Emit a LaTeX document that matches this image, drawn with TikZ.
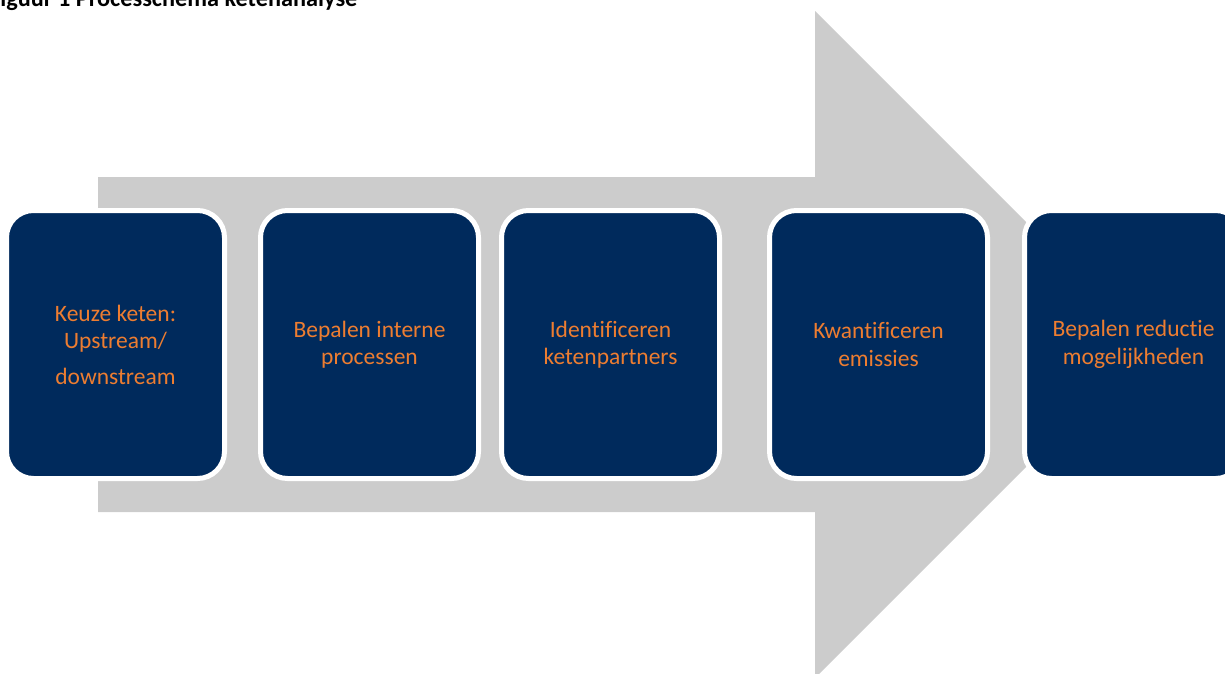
\documentclass[tikz,border=0pt]{standalone}
\usepackage{fontspec}
\setmainfont{Carlito}[Ligatures=NoCommon]
\definecolor{ketenblauw}{HTML}{002A5C}
\definecolor{ketenoranje}{HTML}{ED7D31}
\definecolor{pijlgrijs}{HTML}{CCCCCC}

\begin{document}
\begin{tikzpicture}[x=1pt,y=-1pt]
\clip (0,0) rectangle (1225,673);

% grote pijl op de achtergrond
\fill[pijlgrijs] (98,177) -- (815,177) -- (815,11) -- (1148.5,344.5)
  -- (815,678) -- (815,512) -- (98,512) -- cycle;

\node[font=\bfseries\fontsize{24.3}{28}\selectfont, anchor=base west, inner sep=0pt] (titel) at (-11,6) {Figuur 1 Processchema ketenanalyse};

\begin{scope}[every node/.style={rectangle, rounded corners=27pt, fill=ketenblauw, draw=white, line width=5pt, minimum width=218pt, minimum height=268pt, inner sep=0pt, text=ketenoranje, align=center, font=\fontsize{23.5}{27.5}\selectfont}]
\node (1) at (115.5,344.5) {Keuze keten:\\ Upstream/\\[8pt] downstream};
\node (2) at (369.5,344.5) {Bepalen interne\\ processen};
\node (3) at (610.5,344.5) {Identificeren\\ ketenpartners};
\node (4) at (878.5,344.5) {Kwantificeren\\ emissies};
\node (5) at (1133.5,344.5) {Bepalen reductie\\ mogelijkheden};
\end{scope}

\end{tikzpicture}
\end{document}
